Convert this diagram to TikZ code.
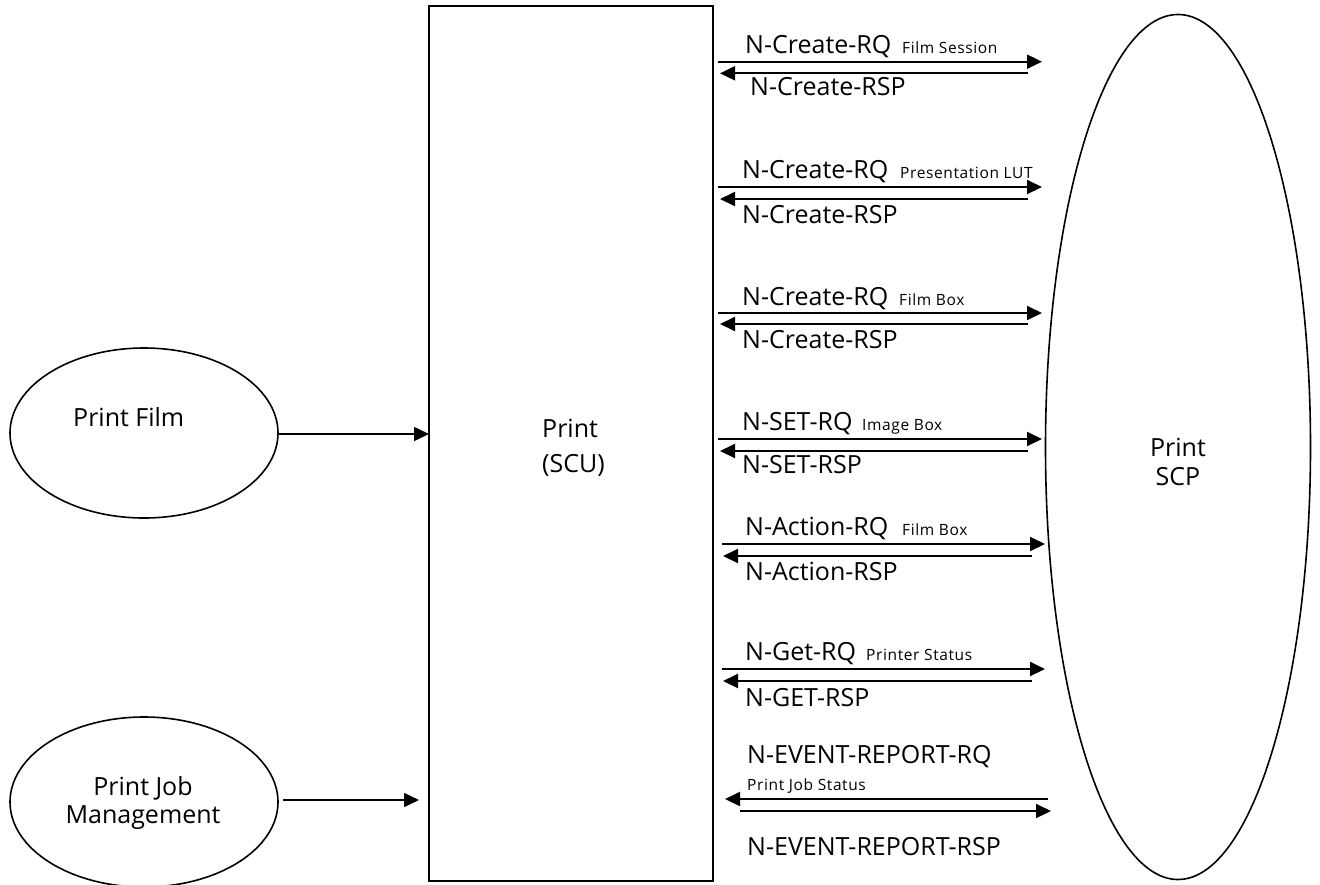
\documentclass[tikz,border=0pt]{standalone}
\usepackage{fontspec}
\setmainfont{Open Sans}
\usetikzlibrary{arrows.meta,shapes.geometric}
\newfontfamily\smallfam[LetterSpace=4]{Open Sans}
\tikzset{
  lbl/.style={font=\fontsize{25}{29}\selectfont, anchor=base west, inner sep=0pt},
  sublbl/.style={font=\smallfam\fontsize{15.5}{18}\selectfont, anchor=base west, inner sep=0pt},
  msg/.style={line width=2pt, -{Triangle[length=15pt,width=14pt]}},
  oval/.style={draw, line width=1.6pt, ellipse, inner sep=0pt},
}
\begin{document}
\begin{tikzpicture}[x=1pt,y=-1pt]
\useasboundingbox (0,0) rectangle (1320,884);
% main blocks
\node[draw, line width=1.8pt, minimum width=284pt, minimum height=875pt, inner sep=0pt] (scu) at (571,443.5) {};
\node[font=\fontsize{25}{35}\selectfont, align=left, anchor=base west, inner sep=0pt] (scut) at (542,472) {Print\\(SCU)};
\node[oval, minimum width=265pt, minimum height=865pt] (scp) at (1178,447) {};
\node[font=\fontsize{25}{29}\selectfont, align=center, anchor=base, inner sep=0pt] (scpt) at (1178,485) {Print\\SCP};
\node[oval, minimum width=268pt, minimum height=170pt] (pf) at (144,433) {};
\node[lbl] (pft) at (73,426) {Print Film};
\node[oval, minimum width=268pt, minimum height=170pt] (pj) at (144,802) {};
\node[font=\fontsize{25}{28}\selectfont, align=center, anchor=base, inner sep=0pt] (pjt) at (143,823) {Print Job\\Management};
% inputs
\coordinate (pfin) at (429,434);
\draw[line width=1.6pt, -{Triangle[length=15pt,width=14pt]}] (pf.east |- pfin) -- (pfin);
\coordinate (pjout) at (283,800);
\coordinate (pjin) at (419,800);
\draw[line width=1.6pt, -{Triangle[length=15pt,width=14pt]}] (pjout) -- (pjin);
% message pairs
\foreach \i/\ya/\yb/\xs/\xe/\xr/\xt in {1/61.7/73.3/718/1042/1028/720, 2/187/199/718/1042/1028/720, 3/313/324/718/1042/1028/720, 4/439/451/718/1042/1028/720, 5/544/556/722/1045/1032/723, 6/669/681/722/1045/1032/723}{
  \coordinate (rq\i s) at (\xs,\ya);
  \coordinate (rq\i e) at (\xe,\ya);
  \coordinate (rs\i s) at (\xr,\yb);
  \coordinate (rs\i e) at (\xt,\yb);
  \draw[msg] (rq\i s) -- (rq\i e);
  \draw[msg] (rs\i s) -- (rs\i e);
}
\node[lbl] (l1a) at (745,53) {N-Create-RQ};
\node[sublbl] (l1b) at (902,53) {Film Session};
\node[lbl] (l1c) at (750,95) {N-Create-RSP};
\node[lbl] (l2a) at (742,178) {N-Create-RQ};
\node[sublbl] (l2b) at (900,178) {Presentation LUT};
\node[lbl] (l2c) at (742,223) {N-Create-RSP};
\node[lbl] (l3a) at (742,305) {N-Create-RQ};
\node[sublbl] (l3b) at (899,305) {Film Box};
\node[lbl] (l3c) at (742,348) {N-Create-RSP};
\node[lbl] (l4a) at (742,430) {N-SET-RQ};
\node[sublbl] (l4b) at (862,430) {Image Box};
\node[lbl] (l4c) at (742,473) {N-SET-RSP};
\node[lbl] (l5a) at (745,535) {N-Action-RQ};
\node[sublbl] (l5b) at (902,535) {Film Box};
\node[lbl] (l5c) at (745,580) {N-Action-RSP};
\node[lbl] (l6a) at (745,660) {N-Get-RQ};
\node[sublbl] (l6b) at (866,660) {Printer Status};
\node[lbl] (l6c) at (745,706) {N-GET-RSP};
% event report
\coordinate (ev1s) at (1048,799);
\coordinate (ev1e) at (725,799);
\coordinate (ev2s) at (740,811);
\coordinate (ev2e) at (1051,811);
\draw[msg] (ev1s) -- (ev1e);
\draw[msg] (ev2s) -- (ev2e);
\node[lbl] (l7a) at (747,763) {N-EVENT-REPORT-RQ};
\node[sublbl] (l7b) at (747,790) {Print Job Status};
\node[lbl] (l7c) at (747,855) {N-EVENT-REPORT-RSP};
\end{tikzpicture}
\end{document}
